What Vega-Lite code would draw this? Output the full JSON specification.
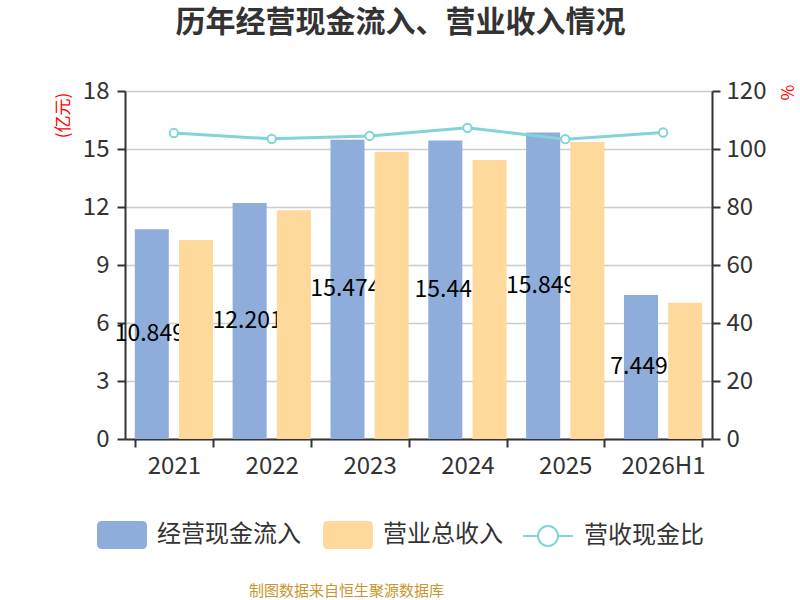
{
  "$schema": "https://vega.github.io/schema/vega-lite/v6.json",
  "autosize": "none",
  "width": 587,
  "height": 348,
  "padding": {"left": 125, "top": 91, "right": 88, "bottom": 161},
  "background": "white",
  "config": {
    "font": "Noto Sans CJK SC",
    "view": {"stroke": null},
    "axis": {"domainColor": "#333333", "domainWidth": 2, "tickColor": "#333333", "tickWidth": 2, "tickSize": 8, "labelColor": "#333333", "labelFontSize": 24, "labelFont": "Noto Sans CJK SC"}
  },
  "title": {"text": "历年经营现金流入、营业收入情况", "anchor": "middle", "frame": "group", "dx": -18, "offset": 41, "fontSize": 30, "fontWeight": "bold", "color": "#333333", "font": "Noto Sans CJK SC"},
  "datasets": {
    "bars": [
      {"year": "2021", "series": "经营现金流入", "value": 10.849},
      {"year": "2021", "series": "营业总收入", "value": 10.29},
      {"year": "2022", "series": "经营现金流入", "value": 12.201},
      {"year": "2022", "series": "营业总收入", "value": 11.83},
      {"year": "2023", "series": "经营现金流入", "value": 15.474},
      {"year": "2023", "series": "营业总收入", "value": 14.85},
      {"year": "2024", "series": "经营现金流入", "value": 15.44},
      {"year": "2024", "series": "营业总收入", "value": 14.43},
      {"year": "2025", "series": "经营现金流入", "value": 15.849},
      {"year": "2025", "series": "营业总收入", "value": 15.36},
      {"year": "2026H1", "series": "经营现金流入", "value": 7.449},
      {"year": "2026H1", "series": "营业总收入", "value": 7.05}
    ],
    "ratio": [
      {"year": "2021", "series": "营收现金比", "ratio": 105.5},
      {"year": "2022", "series": "营收现金比", "ratio": 103.5},
      {"year": "2023", "series": "营收现金比", "ratio": 104.5},
      {"year": "2024", "series": "营收现金比", "ratio": 107.3},
      {"year": "2025", "series": "营收现金比", "ratio": 103.4},
      {"year": "2026H1", "series": "营收现金比", "ratio": 105.7}
    ]
  },
  "encoding": {
    "x": {
      "field": "year", "type": "nominal", "sort": null,
      "scale": {"domain": ["2021", "2022", "2023", "2024", "2025", "2026H1"], "paddingInner": 0.2, "paddingOuter": 0.1},
      "axis": {"labelAngle": 0, "tickBand": "extent", "labelPadding": 7, "grid": false, "title": "制图数据来自恒生聚源数据库", "titleFontSize": 15, "titleFontWeight": "normal", "titleColor": "#c8962e", "titleX": 221, "titleY": 151, "titleAlign": "center", "titleBaseline": "middle"}
    }
  },
  "layer": [
    {
      "data": {"name": "bars"},
      "transform": [{"filter": "datum.series === '经营现金流入'"}],
      "mark": {"type": "bar"},
      "encoding": {
        "xOffset": {"field": "series", "type": "nominal", "scale": {"domain": ["经营现金流入", "营业总收入"], "paddingInner": 0.23}},
        "y": {"field": "value", "type": "quantitative", "scale": {"domain": [0, 18]},
          "axis": {"values": [0, 3, 6, 9, 12, 15, 18], "grid": true, "gridColor": "#cccccc", "gridWidth": 1.5, "labelPadding": 8, "title": "(亿元)", "titleColor": "#ff0000", "titleFontSize": 17, "titleFontWeight": "normal", "titleX": -62, "titleY": 24, "titleAngle": -90, "titleAlign": "center", "titleBaseline": "middle"}},
        "color": {"field": "series", "type": "nominal", "scale": {"domain": ["经营现金流入", "营业总收入"], "range": ["#8eaddb", "#fed99b"]},
          "legend": {"orient": "none", "legendX": -28, "legendY": 419, "direction": "horizontal", "title": null, "padding": 0,
            "symbolType": "M-0.8,-0.56 L0.8,-0.56 Q1,-0.56 1,-0.36 L1,0.36 Q1,0.56 0.8,0.56 L-0.8,0.56 Q-1,0.56 -1,0.36 L-1,-0.36 Q-1,-0.56 -0.8,-0.56 Z",
            "symbolSize": 2500, "symbolStrokeWidth": 0, "labelFontSize": 24, "labelColor": "#333333", "labelOffset": 10, "columnPadding": 22, "labelFont": "Noto Sans CJK SC"}}
      }
    },
    {
      "data": {"name": "bars"},
      "transform": [{"filter": "datum.series === '经营现金流入'"}],
      "mark": {"type": "text", "fontSize": 23, "color": "#000000", "align": "center", "baseline": "middle", "dx": -2},
      "encoding": {
        "xOffset": {"field": "series", "type": "nominal", "scale": {"domain": ["经营现金流入", "营业总收入"], "paddingInner": 0.23}},
        "y": {"field": "value", "type": "quantitative", "scale": {"domain": [0, 36]}, "axis": null},
        "text": {"field": "value", "type": "quantitative"}
      }
    },
    {
      "data": {"name": "bars"},
      "transform": [{"filter": "datum.series === '营业总收入'"}],
      "mark": {"type": "bar"},
      "encoding": {
        "xOffset": {"field": "series", "type": "nominal", "scale": {"domain": ["经营现金流入", "营业总收入"], "paddingInner": 0.23}},
        "y": {"field": "value", "type": "quantitative", "scale": {"domain": [0, 18]}, "axis": null},
        "color": {"field": "series", "type": "nominal", "scale": {"domain": ["经营现金流入", "营业总收入"], "range": ["#8eaddb", "#fed99b"]}}
      }
    },
    {
      "data": {"name": "ratio"},
      "mark": {"type": "line", "strokeWidth": 3, "point": {"filled": false, "fill": "white", "size": 70, "strokeWidth": 2, "stroke": "#82d4d7"}},
      "encoding": {
        "y": {"field": "ratio", "type": "quantitative", "scale": {"domain": [0, 120]},
          "axis": {"orient": "right", "values": [0, 20, 40, 60, 80, 100, 120], "grid": false, "labelPadding": 6, "title": "%", "titleColor": "#ff0000", "titleFontSize": 17, "titleFontWeight": "normal", "titleX": 73, "titleY": 1, "titleAngle": 90, "titleAlign": "center", "titleBaseline": "middle"}},
        "stroke": {"field": "series", "type": "nominal", "scale": {"domain": ["营收现金比"], "range": ["#82d4d7"]},
          "legend": {"orient": "none", "legendX": 397, "legendY": 419, "direction": "horizontal", "title": null, "padding": 0,
            "symbolType": "M-1,0 L-0.4,0 M0.4,0 L1,0 M0.4,0 A0.4,0.4 0 1 1 -0.4,0 A0.4,0.4 0 1 1 0.4,0 Z",
            "symbolSize": 2500, "symbolStrokeWidth": 2, "symbolFillColor": "white", "labelFontSize": 24, "labelColor": "#333333", "labelOffset": 10, "labelFont": "Noto Sans CJK SC"}}
      }
    }
  ],
  "resolve": {"scale": {"y": "independent"}}
}
